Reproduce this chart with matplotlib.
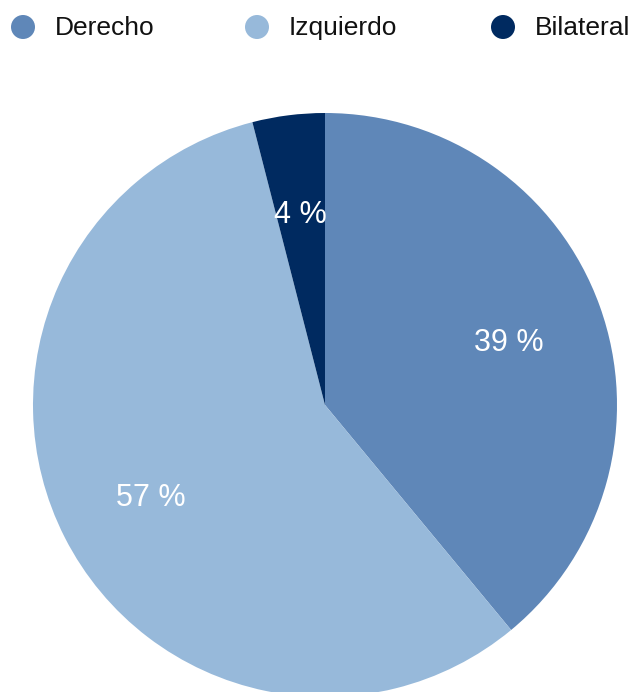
import matplotlib.pyplot as plt
from matplotlib.patches import Circle

plt.rcParams['font.family'] = ['Liberation Sans', 'DejaVu Sans']

# Lado afectado (%)
categorias = ['Derecho', 'Izquierdo', 'Bilateral']
valores = [39, 57, 4]
colores = ['#5f87b8', '#97b9da', '#002a60']

fig = plt.figure(figsize=(6.36, 6.92), dpi=100)
ax = fig.add_axes([0, 0, 1, 1])

wedges, textos, pcts = ax.pie(
    valores, colors=colores, startangle=90, counterclock=False,
    center=(325, 287), radius=292,
    autopct=lambda p: f'{p:.0f} %', pctdistance=0.67,
    textprops=dict(color='white', fontsize=22),
    wedgeprops=dict(linewidth=0))

# bajar ligeramente las etiquetas de porcentaje
for t in pcts:
    x, y = t.get_position()
    t.set_position((x, y - 4))

# leyenda en la parte superior
leyenda_x = [23, 257, 503]
for x, nombre, color in zip(leyenda_x, categorias, colores):
    ax.add_patch(Circle((x, 665), 12, color=color, linewidth=0))
    ax.text(x + 32, 664, nombre, fontsize=19, color='#111111',
            va='center', ha='left')

ax.set_xlim(0, 636)
ax.set_ylim(0, 692)
ax.set_aspect('equal')
ax.axis('off')

fig.savefig('out.png', dpi=100)
